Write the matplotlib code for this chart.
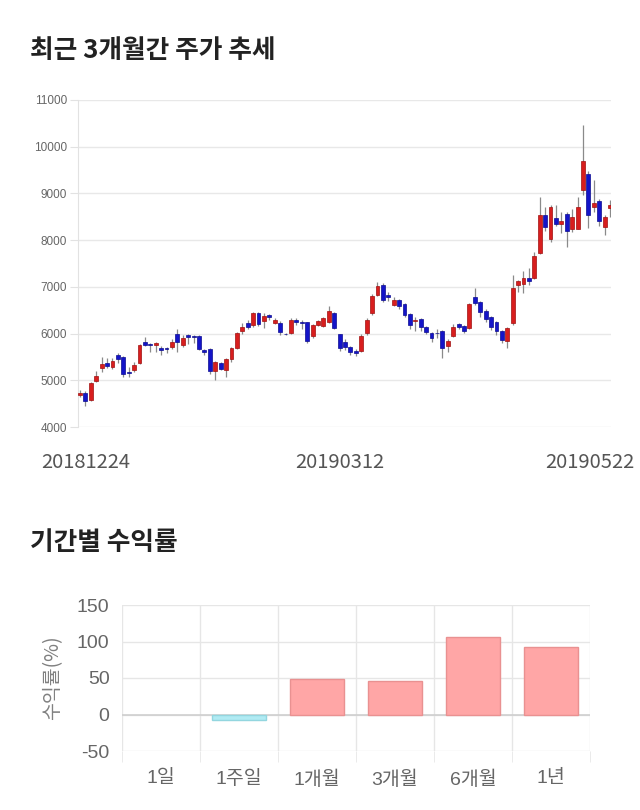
import matplotlib
matplotlib.use("Agg")
import matplotlib.pyplot as plt
from matplotlib.transforms import ScaledTranslation

plt.rcParams['font.family'] = ['Noto Sans CJK KR', 'DejaVu Sans']
plt.rcParams['axes.unicode_minus'] = False

# daily candles, 20181224 .. 20190522
opens = [4680, 4720, 4570, 4980, 5260, 5380, 5280, 5550, 5500, 5170,
         5220, 5370, 5820, 5780, 5760, 5700, 5700, 5720, 5990, 5750,
         5980, 5940, 5950, 5650, 5670, 5200, 5380, 5220, 5460, 5690,
         6060, 6235, 6185, 6450, 6270, 6400, 6220, 6235, 6000, 6020,
         6290, 6245, 6240, 5940, 6190, 6170, 6240, 6450, 5990, 5830,
         5710, 5635, 5630, 6005, 6440, 6830, 7030, 6830, 6610, 6710,
         6640, 6420, 6260, 6310, 6130, 6010, 6020, 6065, 5740, 5950,
         6200, 6170, 6120, 6780, 6670, 6490, 6350, 6240, 6065, 5850,
         6220, 7030, 7060, 7180, 7200, 7720, 8540, 8020, 8470, 8350,
         8550, 8240, 8240, 9080, 9410, 8700, 8840, 8280, 8680]
closes = [4720, 4550, 4940, 5100, 5350, 5300, 5420, 5450, 5130, 5160,
          5320, 5760, 5750, 5760, 5790, 5640, 5680, 5830, 5820, 5900,
          5930, 5920, 5670, 5610, 5200, 5400, 5240, 5460, 5690, 6010,
          6140, 6140, 6450, 6200, 6385, 6350, 6290, 6040, 5985, 6290,
          6240, 6240, 5840, 6190, 6270, 6330, 6490, 6110, 5700, 5710,
          5600, 5580, 5950, 6290, 6800, 7020, 6710, 6790, 6720, 6580,
          6400, 6190, 6290, 6150, 6030, 5910, 6010, 5690, 5840, 6150,
          6150, 6060, 6640, 6650, 6460, 6310, 6140, 6065, 5860, 6110,
          6970, 7120, 7180, 7120, 7660, 8540, 8290, 8700, 8350, 8420,
          8200, 8490, 8700, 9700, 8540, 8790, 8400, 8490, 8750]
highs = [4800, 4760, 4960, 5200, 5500, 5470, 5470, 5580, 5510, 5280,
         5400, 5780, 5930, 5800, 5810, 5730, 5720, 5880, 6090, 5960,
         6000, 5960, 5970, 5680, 5690, 5420, 5400, 5480, 5710, 6030,
         6220, 6280, 6460, 6460, 6450, 6420, 6330, 6260, 6010, 6330,
         6340, 6300, 6250, 6200, 6290, 6360, 6600, 6460, 6000, 5880,
         5740, 5680, 5990, 6340, 6850, 7110, 7080, 6900, 6780, 6740,
         6660, 6450, 6350, 6340, 6160, 6030, 6090, 6080, 5880, 6200,
         6220, 6190, 6660, 6970, 6700, 6520, 6380, 6260, 6080, 6130,
         7250, 7140, 7350, 7400, 7750, 8930, 8700, 8750, 8750, 8600,
         8600, 8660, 8920, 10460, 9480, 9290, 8880, 8530, 8860]
lows = [4640, 4450, 4560, 4960, 5180, 5260, 5240, 5380, 5060, 5080,
        5180, 5350, 5730, 5600, 5600, 5540, 5580, 5660, 5600, 5720,
        5780, 5800, 5650, 5540, 5140, 5000, 5220, 5080, 5400, 5660,
        6000, 6100, 6150, 6170, 6120, 6300, 6200, 5980, 5970, 5990,
        6180, 6100, 5800, 5900, 6170, 6150, 6220, 6090, 5620, 5640,
        5540, 5530, 5600, 5980, 6400, 6800, 6680, 6700, 6580, 6520,
        6350, 6100, 6060, 6060, 5990, 5830, 5910, 5470, 5600, 5930,
        6100, 6020, 6100, 6620, 6350, 6250, 6080, 5960, 5800, 5690,
        6180, 6900, 6860, 7050, 7160, 7700, 8200, 7950, 8300, 8150,
        7860, 8170, 8240, 8960, 8250, 8600, 8300, 8100, 8500]
date_ticks = [0, 49, 98]
date_labels = ['20181224', '20190312', '20190522']

periods = ['1일', '1주일', '1개월', '3개월', '6개월', '1년']
returns = [0, -7, 48.5, 46.5, 105.5, 92.5]

fig = plt.figure(figsize=(6.4, 8.1), dpi=100)

fig.text(30 / 640, 1 - 50 / 810, '최근 3개월간 주가 추세', fontsize=18.5,
         fontweight='bold', color='#222222', va='center', ha='left')
fig.text(30 / 640, 1 - 543 / 810, '기간별 수익률', fontsize=18.5,
         fontweight='bold', color='#222222', va='center', ha='left')

# --- candle chart ---
ax = fig.add_axes([78.4 / 640, 1 - 427 / 810, (611.1 - 78.4) / 640, 327 / 810])
xs = list(range(len(opens)))
ax.vlines(xs, lows, highs, color='#8a8a8a', lw=0.9, zorder=2)
for i in xs:
    o, c = opens[i], closes[i]
    up = c >= o
    face = '#d81e1e' if up else '#1414c8'
    edge = '#a01010' if up else '#0c0c90'
    h = c - o
    if abs(h) < 15:
        h = 15 if up else -15
    ax.bar(i, h, bottom=o, width=0.72, color=face, edgecolor=edge,
           linewidth=0.5, zorder=3)
ax.set_xlim(-0.3, 98.2)
ax.set_ylim(4000, 11000)
ax.set_yticks(range(4000, 11001, 1000))
ax.grid(axis='y', color='#e8e8e8', lw=1)
ax.set_axisbelow(True)
for s in ['top', 'right', 'bottom']:
    ax.spines[s].set_visible(False)
ax.spines['left'].set_color('#e2e2e2')
ax.tick_params(axis='y', length=6, color='#e2e2e2', pad=2, labelsize=8.5,
               labelcolor='#666666')
for lbl in ax.get_yticklabels():
    lbl.set_family(['Liberation Sans', 'DejaVu Sans'])
ax.set_xticks(date_ticks)
ax.set_xticklabels(date_labels)
ax.tick_params(axis='x', length=0, pad=18, labelsize=14.5, labelcolor='#555555')
shifts = [6, -5, -20]
for lbl, dx in zip(ax.get_xticklabels(), shifts):
    lbl.set_transform(lbl.get_transform() + ScaledTranslation(dx / 100, 0, fig.dpi_scale_trans))

# --- returns bar chart ---
bx = fig.add_axes([122 / 640, 1 - 751 / 810, 468 / 640, 146 / 810])
cols = ['#ffa6a6' if v >= 0 else '#b0ebf3' for v in returns]
edges = ['#e99191' if v >= 0 else '#93d6df' for v in returns]
widths = [1 if v != 0 else 0 for v in returns]
bx.bar(range(len(periods)), returns, width=0.7, color=cols, edgecolor=edges,
       linewidth=widths, zorder=3)
bx.set_xlim(-0.5, len(periods) - 0.5)
bx.set_ylim(-50, 150)
bx.set_yticks([-50, 0, 50, 100, 150])
bx.grid(axis='y', color='#e6e6e6', lw=1)
bx.axhline(0, color='#cfcfcf', lw=1.2, zorder=2)
for b in [i - 0.5 for i in range(len(periods) + 1)]:
    bx.axvline(b, color='#e6e6e6', lw=1, zorder=1)
for s in bx.spines.values():
    s.set_visible(False)
bx.set_xticks([i - 0.5 for i in range(len(periods) + 1)], minor=True)
bx.set_xticks(range(len(periods)))
bx.set_xticklabels(periods)
bx.tick_params(axis='x', which='minor', length=8, color='#e6e6e6', direction='out')
bx.tick_params(axis='x', which='major', length=0, pad=14, labelsize=14,
               labelcolor='#666666')
bx.tick_params(axis='y', length=0, pad=9, labelsize=14, labelcolor='#666666')
for lbl in bx.get_yticklabels():
    lbl.set_family(['Liberation Sans', 'DejaVu Sans'])
for lbl in bx.get_xticklabels():
    lbl.set_family(['Liberation Sans', 'Noto Sans CJK KR'])
bx.set_ylabel('수익률(%)', fontsize=14, color='#808080', labelpad=10)

fig.savefig('out.png', dpi=100)
